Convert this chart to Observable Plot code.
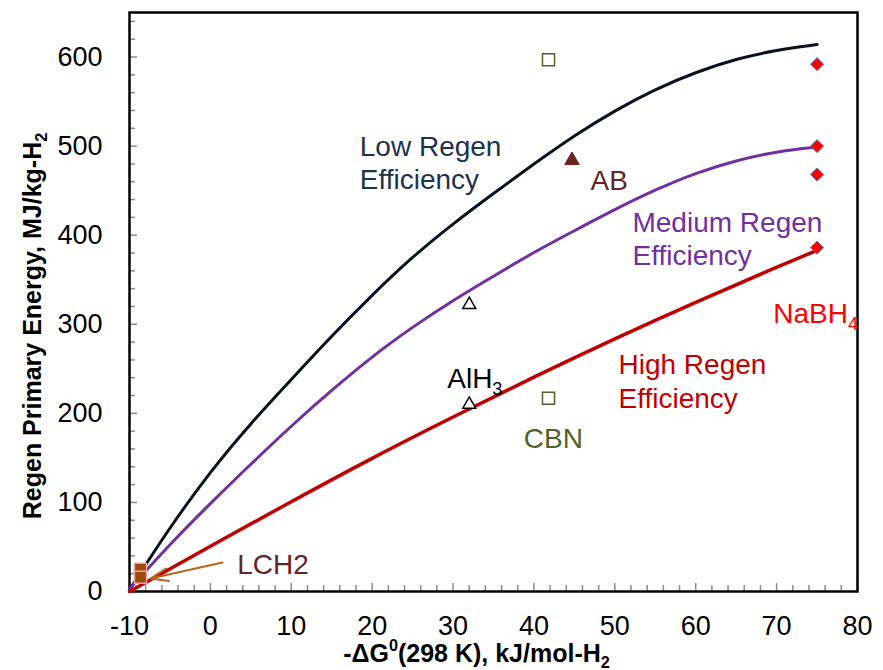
<!DOCTYPE html>
<html><head><meta charset="utf-8">
<script src="https://cdn.jsdelivr.net/npm/d3@7"></script>
<script src="https://cdn.jsdelivr.net/npm/@observablehq/plot@0.6"></script>
<style>body{margin:0;background:#fff;} svg{display:block;}</style>
</head><body><div id="chart"></div>
<script>
// ---- axis ticks ----
const xTicks = [-10, 0, 10, 20, 30, 40, 50, 60, 70, 80];
const yTicks = [0, 100, 200, 300, 400, 500, 600];

// ---- regeneration efficiency curves ----
const curveX = [-10, -8, -5, 0, 5, 10, 15, 20, 25, 30, 35, 40, 45, 50, 55, 60, 65, 70, 75];
const lowY =    [2, 30, 72, 135, 189, 238, 287, 333, 376, 413, 447, 480, 512, 540, 564, 583, 598, 608, 614];
const mediumY = [3, 23, 53, 99, 143, 186, 226, 264, 297, 327, 354, 381, 405, 429, 451, 470, 484, 494, 499];
const highX = [-10, 0, 10, 20, 30, 40, 50, 60, 70, 75];
const highY = [0, 51, 101, 150, 196, 241, 284, 325, 364, 383];

// ---- materials ----
const nabh4X = [75, 75, 75, 75];
const nabh4Y = [592, 500, 468, 386];
const cbnX = [41.8, 41.8];
const cbnY = [597, 217];
const alh3X = [32, 32];
const alh3Y = [322, 210];
const abX = [44.7];
const abY = [484];
const lch2X = [-8.64, -8.64];
const lch2Y = [25, 16];

// ---- annotation labels ----
const labelText  = ["Low Regen\nEfficiency", "AB", "Medium Regen\nEfficiency", "NaBH4", "High Regen\nEfficiency", "AlH3", "CBN", "LCH2"];
const labelX     = [18.47, 46.99, 52.18, 69.58, 50.45, 29.28, 38.75, 3.31];
const labelY     = [482.6, 462.5, 397, 313.5, 237.4, 240.8, 172.8, 31.9];
const labelColor = ["#1c3150", "#632523", "#7030a0", "#ff0000", "#c00000", "#000000", "#4f6228", "#632523"];
// LCH2 arrow (tail -> head)
const arrowFrom = [1.5, 32.5];
const arrowTo = [-7.4, 14.6];

const W = 883, H = 670;
const mL = 129, mR = 26, mT = 12, mB = 79;
const plotW = W - mL - mR, plotH = H - mT - mB;

const rows = (xs, ys) => xs.map((x, i) => ({x, y: ys[i]}));
const labels = labelText.map((t, i) => ({t, x: labelX[i], y: labelY[i], c: labelColor[i]}));
const minorX = d3.range(-10, 80.001, 2).filter(v => !xTicks.includes(v));
const minorY = d3.range(0, 650, 20).filter(v => !yTicks.includes(v));
const fmt = d => String(d);

const chart = Plot.plot({
  width: W, height: H,
  marginLeft: mL, marginRight: mR, marginTop: mT, marginBottom: mB,
  style: {fontFamily: "'Liberation Sans', Arial, sans-serif", background: "#fff", color: "#000"},
  x: {domain: [-10, 80]},
  y: {domain: [0, 650]},
  color: {type: "identity"},
  marks: [
    Plot.tickX(minorX, {x: d => d, stroke: "#8c8c8c", strokeWidth: 1.5, insetTop: plotH - 6}),
    Plot.tickX(xTicks, {x: d => d, stroke: "#8c8c8c", strokeWidth: 1.5, insetTop: plotH - 8}),
    Plot.tickY(minorY, {y: d => d, stroke: "#8c8c8c", strokeWidth: 1.5, insetRight: plotW - 6}),
    Plot.tickY(yTicks, {y: d => d, stroke: "#8c8c8c", strokeWidth: 1.5, insetRight: plotW - 8}),
    Plot.axisX({ticks: xTicks, tickSize: 0, tickPadding: 24, fontSize: 27, tickFormat: fmt, label: null}),
    Plot.axisY({ticks: yTicks, tickSize: 0, tickPadding: 27, fontSize: 27, tickFormat: fmt, label: null}),
    Plot.frame({stroke: "#000", strokeWidth: 2.5}),
    Plot.line(rows(curveX, lowY), {x: "x", y: "y", stroke: "#0b1020", strokeWidth: 3, curve: "basis"}),
    Plot.line(rows(curveX, mediumY), {x: "x", y: "y", stroke: "#7030a0", strokeWidth: 3, curve: "basis"}),
    Plot.line(rows(highX, highY), {x: "x", y: "y", stroke: "#c00000", strokeWidth: 3.5, curve: "basis"}),
    Plot.dot(rows(nabh4X, nabh4Y), {x: "x", y: "y", symbol: "diamond2", r: 5.9, fill: "#ff0000", stroke: "#4f81bd", strokeWidth: 1}),
    Plot.dot(rows(cbnX, cbnY), {x: "x", y: "y", symbol: "square", r: 6.8, fill: "#fff", stroke: "#4f6228", strokeWidth: 1.5}),
    Plot.dot(rows(alh3X, alh3Y), {x: "x", y: "y", symbol: "triangle", r: 4.8, fill: "#fff", stroke: "#000", strokeWidth: 1.5}),
    Plot.dot(rows(abX, abY), {x: "x", y: "y", symbol: "triangle", r: 5.4, fill: "#6b2424", stroke: "#6b2424", strokeWidth: 1}),
    Plot.dot(rows(lch2X, lch2Y), {x: "x", y: "y", symbol: "square", r: 6.8, fill: "#9c4a0a", stroke: "#e6a5a0", strokeWidth: 1.5}),
    Plot.arrow([{x1: arrowFrom[0], y1: arrowFrom[1], x2: arrowTo[0], y2: arrowTo[1]}],
      {x1: "x1", y1: "y1", x2: "x2", y2: "y2", stroke: "#b8651e", strokeWidth: 2, headLength: 14, headAngle: 40}),
    Plot.text(labels, {x: "x", y: "y", text: "t", fill: "c", fontSize: 28, lineHeight: 1.2,
      textAnchor: "start", lineAnchor: "middle"}),
    Plot.text(["Regen Primary Energy, MJ/kg-H2"], {frameAnchor: "left", rotate: -90, dx: -97, dy: 24,
      fontSize: 25, fontWeight: "bold", lineAnchor: "middle", textAnchor: "middle"}),
    Plot.text(["-ΔG0(298 K), kJ/mol-H2"], {frameAnchor: "bottom", dx: -17, dy: 62,
      fontSize: 25, fontWeight: "bold", lineAnchor: "middle", textAnchor: "middle"})
  ]
});

function rich(svg, plain, parts, F) {
  svg.querySelectorAll("text").forEach(t => {
    if (t.textContent !== plain) return;
    while (t.firstChild) t.removeChild(t.firstChild);
    let shift = 0;
    parts.forEach(([s, kind]) => {
      const ts = document.createElementNS("http://www.w3.org/2000/svg", "tspan");
      ts.textContent = s;
      const target = kind === "sub" ? 0.26 * F : kind === "sup" ? -0.42 * F : 0;
      if (target !== shift) { ts.setAttribute("dy", target - shift); shift = target; }
      if (kind) ts.setAttribute("font-size", 0.65 * F);
      t.appendChild(ts);
    });
  });
}
rich(chart, "NaBH4", [["NaBH"], ["4", "sub"]], 28);
rich(chart, "AlH3", [["AlH"], ["3", "sub"]], 28);
rich(chart, "Regen Primary Energy, MJ/kg-H2", [["Regen Primary Energy, MJ/kg-H"], ["2", "sub"]], 25);
rich(chart, "-ΔG0(298 K), kJ/mol-H2", [["-ΔG"], ["0", "sup"], ["(298 K), kJ/mol-H"], ["2", "sub"]], 25);

document.getElementById("chart").appendChild(chart);
</script></body></html>
